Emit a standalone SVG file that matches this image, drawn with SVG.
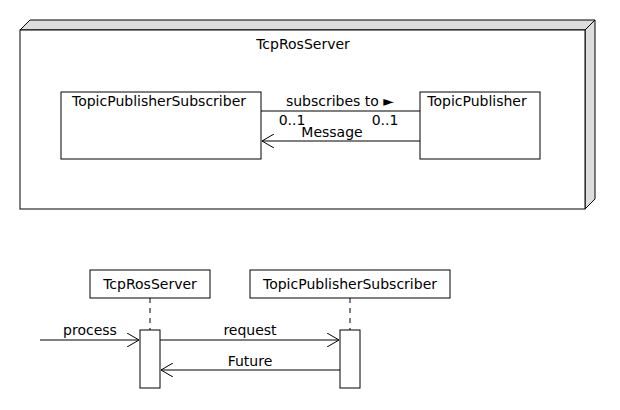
<svg xmlns="http://www.w3.org/2000/svg" width="620" height="410" viewBox="0 0 620 410">
<style>
text{font-family:"DejaVu Sans",sans-serif;font-size:14px;fill:#000}
.c{text-anchor:middle}
.b{fill:#fff;stroke:#000;stroke-width:1}
.l{stroke:#000;stroke-width:1;fill:none}
.d{stroke:#000;stroke-width:1;stroke-dasharray:5,5;fill:none}
</style>
<defs>
<marker id="open" markerWidth="14" markerHeight="14" refX="12" refY="7" orient="auto" markerUnits="userSpaceOnUse">
<path d="M0,0 L12,7 L0,14" fill="none" stroke="#000" stroke-width="1"/>
</marker>
</defs>
<rect width="620" height="410" fill="#fff"/>
<g id="node-tcprosserver">
<polygon points="20,30 30,20 595,20 595,199 585,209 585,30" fill="#ddd" stroke="#000"/>
<line x1="585" y1="30" x2="595" y2="20" class="l"/>
<rect x="20" y="30" width="565" height="179" class="b"/>
<text x="303" y="49" class="c">TcpRosServer</text>
</g>
<g id="class-tps">
<rect x="61" y="92" width="200" height="67" class="b"/>
<text x="159" y="106" class="c">TopicPublisherSubscriber</text>
</g>
<g id="class-tp">
<rect x="420" y="92" width="120" height="67" class="b"/>
<text x="477" y="106" class="c">TopicPublisher</text>
</g>
<g id="seq-tcp">
<rect x="90" y="270" width="120" height="28" class="b"/>
<text x="150" y="289" class="c">TcpRosServer</text>
<line x1="150" y1="298" x2="150" y2="330" class="d"/>
<rect x="140" y="330" width="20" height="58" class="b"/>
</g>
<g id="seq-tps">
<rect x="250" y="270" width="200" height="28" class="b"/>
<text x="350" y="289" class="c">TopicPublisherSubscriber</text>
<line x1="350" y1="298" x2="350" y2="330" class="d"/>
<rect x="340" y="330" width="20" height="58" class="b"/>
</g>
<g id="connectors">
<line x1="261" y1="111" x2="420" y2="111" class="l"/>
<text x="340" y="106" class="c">subscribes to ►</text>
<text x="292" y="125" class="c">0..1</text>
<text x="385" y="125" class="c">0..1</text>
<line x1="420" y1="141" x2="262" y2="141" class="l" marker-end="url(#open)"/>
<text x="332" y="137" class="c">Message</text>
<line x1="40" y1="340" x2="139" y2="340" class="l" marker-end="url(#open)"/>
<text x="90" y="335" class="c">process</text>
<line x1="160" y1="340" x2="339" y2="340" class="l" marker-end="url(#open)"/>
<text x="250" y="335" class="c">request</text>
<line x1="340" y1="370" x2="161" y2="370" class="l" marker-end="url(#open)"/>
<text x="250" y="366" class="c">Future</text>
</g>
</svg>
